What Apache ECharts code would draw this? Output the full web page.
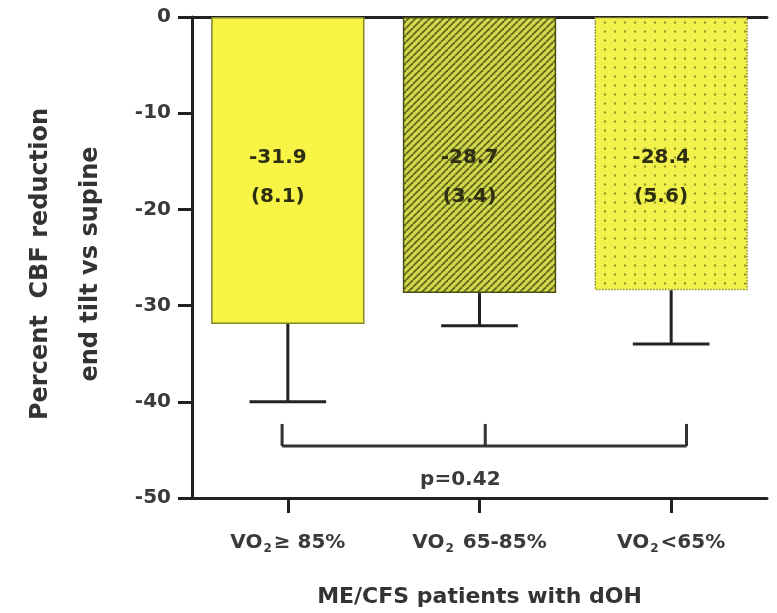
<!DOCTYPE html>
<html>
<head>
<meta charset="utf-8">
<script src="https://cdn.jsdelivr.net/npm/echarts@6/dist/echarts.min.js"></script>
<style>
  html, body { margin: 0; padding: 0; background: #fff; }
  #main { width: 777px; height: 613px; }
</style>
</head>
<body>
<div id="main"></div>
<script>
// data
var groups = ['≥ 85%', '65-85%', '<65%'];
var means = [-31.9, -28.7, -28.4];
var sds = [8.1, 3.4, 5.6];
var yTicks = [0, -10, -20, -30, -40, -50];
var pText = 'p=0.42';
// comparison bracket (category index, value)
var bracketX = [-0.03, 1.03, 2.08];
var bracketLevels = [-44.6, -42.3]; // bar, tick tops
var pPos = [0.9, -48.1];

var FONT = '"DejaVu Sans", sans-serif';

function stripeTile() {
  var c = document.createElement('canvas');
  c.width = 7; c.height = 7;
  var g = c.getContext('2d');
  g.fillStyle = '#d2d84a';
  g.fillRect(0, 0, 7, 7);
  g.strokeStyle = '#626620';
  g.lineWidth = 1.8;
  [-7, 0, 7].forEach(function (o) {
    g.beginPath();
    g.moveTo(o, 7);
    g.lineTo(o + 7, 0);
    g.stroke();
  });
  return c;
}

function dotTile() {
  var c = document.createElement('canvas');
  c.width = 10; c.height = 9;
  var g = c.getContext('2d');
  g.fillStyle = '#f3f14c';
  g.fillRect(0, 0, 10, 9);
  g.fillStyle = '#9a9a2a';
  g.beginPath();
  g.arc(5, 4.5, 1.2, 0, Math.PI * 2);
  g.fill();
  return c;
}

var barStyles = [
  { color: '#f7f446', borderColor: '#85852a', borderWidth: 1.5 },
  { color: { image: stripeTile(), repeat: 'repeat' }, borderColor: '#4a4c14', borderWidth: 1.5 },
  { color: { image: dotTile(), repeat: 'repeat' }, borderColor: '#8a8a28', borderWidth: 1.5, borderType: 'dotted' }
];

var barData = means.map(function (m, i) {
  return { value: m, itemStyle: barStyles[i] };
});

var chart = echarts.init(document.getElementById('main'));

var option = {
  animation: false,
  backgroundColor: '#fff',
  grid: { left: 192, right: 10, top: 17, bottom: 115 },
  xAxis: [{
    type: 'category',
    data: groups,
    position: 'bottom',
    name: 'ME/CFS patients with dOH',
    nameLocation: 'middle',
    nameGap: 88,
    nameTextStyle: { fontFamily: FONT, fontWeight: 'bold', fontSize: 22, color: '#333' },
    axisLine: { show: true, onZero: false, lineStyle: { color: '#222', width: 3 } },
    axisTick: { show: true, alignWithLabel: true, length: 15, lineStyle: { color: '#222', width: 3 } },
    axisLabel: {
      interval: 0,
      margin: 33,
      formatter: function (v) { return 'VO{sub|2}' + (v.charAt(0) === '6' ? ' ' : '') + v; },
      fontFamily: FONT, fontWeight: 'bold', fontSize: 20, color: '#3a3a3a',
      rich: {
        sub: { fontFamily: FONT, fontWeight: 'bold', fontSize: 12, color: '#3a3a3a', padding: [12, 2, 0, 1] }
      }
    },
    splitLine: { show: false }
  }, {
    type: 'category',
    data: groups,
    position: 'top',
    axisLine: { show: true, onZero: false, lineStyle: { color: '#222', width: 3 } },
    axisTick: { show: false },
    axisLabel: { show: false }
  }],
  yAxis: {
    type: 'value',
    min: -50,
    max: 0,
    interval: 10,
    axisLine: { show: true, lineStyle: { color: '#222', width: 3 } },
    axisTick: { show: true, length: 14, lineStyle: { color: '#222', width: 3 } },
    axisLabel: {
      margin: 21,
      fontFamily: FONT, fontWeight: 'bold', fontSize: 20, color: '#3a3a3a',
      formatter: function (v) { return yTicks.indexOf(v) >= 0 ? String(v) : ''; }
    },
    splitLine: { show: false }
  },
  graphic: [{
    type: 'text',
    x: 66,
    y: 264,
    rotation: Math.PI / 2,
    style: {
      text: 'Percent  CBF reduction\nend tilt vs supine',
      fontFamily: FONT, fontWeight: 'bold', fontSize: 24, fill: '#333',
      align: 'center', verticalAlign: 'middle', lineHeight: 50
    }
  }],
  series: [{
    type: 'bar',
    data: barData,
    barCategoryGap: '20%',
    label: {
      show: true,
      position: 'insideTop',
      distance: 121,
      offset: [-10, 0],
      formatter: function (p) {
        return '{v|' + means[p.dataIndex].toFixed(1) + '}\n{v|(' + sds[p.dataIndex].toFixed(1) + ')}';
      },
      rich: {
        v: { fontFamily: FONT, fontWeight: 'bold', fontSize: 20, color: '#2e2e10', lineHeight: 39 }
      }
    },
    z: 2
  }, {
    type: 'custom',
    data: means.map(function (m, i) { return [i, m, m - sds[i]]; }),
    renderItem: function (params, api) {
      var top = api.coord([api.value(0), api.value(1)]);
      var bot = api.coord([api.value(0), api.value(2)]);
      var half = api.size([1, 0])[0] * 0.8 * 0.25;
      var st = { stroke: '#222', lineWidth: 3 };
      return {
        type: 'group',
        children: [
          { type: 'line', shape: { x1: top[0], y1: top[1], x2: bot[0], y2: bot[1] }, style: st },
          { type: 'line', shape: { x1: bot[0] - half, y1: bot[1], x2: bot[0] + half, y2: bot[1] }, style: st }
        ]
      };
    },
    z: 3
  }, {
    type: 'custom',
    data: [[0]],
    renderItem: function (params, api) {
      var step = api.size([1, 0])[0];
      function xAt(c) {
        var i = Math.round(c);
        return api.coord([i, 0])[0] + (c - i) * step;
      }
      var yb = api.coord([0, bracketLevels[0]])[1];
      var yt = api.coord([0, bracketLevels[1]])[1];
      var xs = bracketX.map(xAt);
      var st = { stroke: '#333', lineWidth: 3 };
      var kids = [
        { type: 'line', shape: { x1: xs[0], y1: yb, x2: xs[xs.length - 1], y2: yb }, style: st }
      ];
      xs.forEach(function (x) {
        kids.push({ type: 'line', shape: { x1: x, y1: yb, x2: x, y2: yt }, style: st });
      });
      kids.push({
        type: 'text',
        x: xAt(pPos[0]),
        y: api.coord([0, pPos[1]])[1],
        style: {
          text: pText, fontFamily: FONT, fontSize: 20, fontWeight: 'bold', fill: '#3a3a3a',
          align: 'center', verticalAlign: 'middle'
        }
      });
      return { type: 'group', children: kids };
    },
    z: 3
  }]
};

chart.setOption(option);
</script>
</body>
</html>
